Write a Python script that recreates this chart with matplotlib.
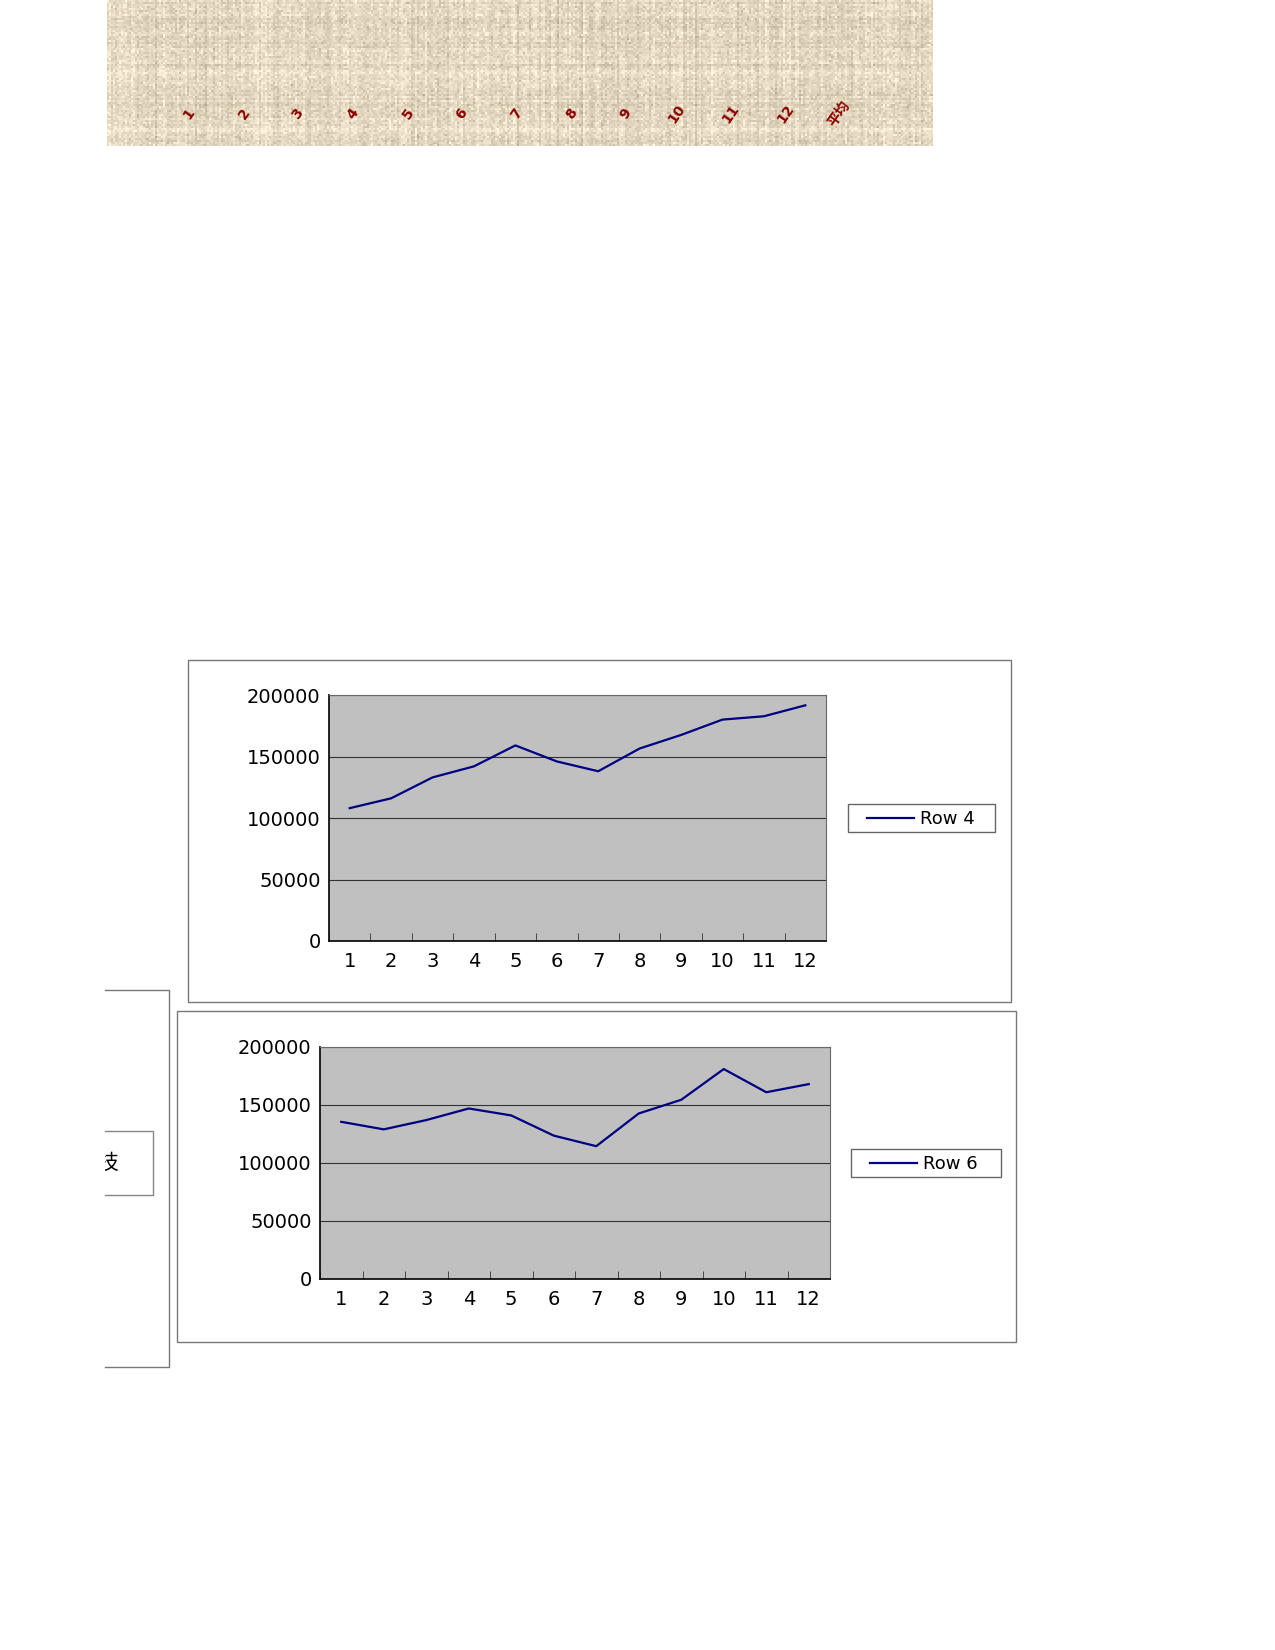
import numpy as np
import matplotlib
matplotlib.use("Agg")
import matplotlib.pyplot as plt
from matplotlib.patches import Rectangle

plt.rcParams['font.family'] = ['DejaVu Sans', 'Noto Sans CJK SC']

months = list(range(1, 13))
row4 = [108000, 116000, 133000, 142000, 159000, 146000, 138000, 156500, 167500, 180000, 182700, 191600]
row6 = [135500, 129000, 137000, 147000, 141000, 123600, 114500, 142700, 154500, 181000, 161000, 168000]
banner_labels = ['1', '2', '3', '4', '5', '6', '7', '8', '9', '10', '11', '12', '平均']
yticks = [0, 50000, 100000, 150000, 200000]

W, H = 1275, 1650
fig = plt.figure(figsize=(12.75, 16.5), dpi=100)

def fx(x): return x / W
def fy(y): return 1 - y / H

def box(x0, y0, x1, y1, lw=1.0, color='#777777'):
    fig.patches.append(Rectangle((fx(x0), fy(y1)), fx(x1 - x0), (y1 - y0) / H,
                                 transform=fig.transFigure, fill=False, ec=color, lw=lw))

# textured banner
bax = fig.add_axes([fx(107), fy(146), fx(933 - 107), 146 / H])
rng = np.random.default_rng(3)
tex = rng.normal(0, 1, (73, 413))
tex = tex + 0.6 * rng.normal(0, 1, (73, 1)) + 0.6 * rng.normal(0, 1, (1, 413))
base = np.array([228, 217, 192]) / 255
img = np.clip(base[None, None, :] + 0.04 * tex[:, :, None], 0, 1)
bax.imshow(img, aspect='auto', interpolation='nearest')
bax.axis('off')
bx = [189, 244, 298, 353, 408, 462, 517, 572, 626, 677, 731, 786, 839]
for x, lab in zip(bx, banner_labels):
    fig.text(fx(x), fy(114), lab, color='#8b0000', fontsize=10, fontweight='bold',
             rotation=55, ha='center', va='center',
             family=['DejaVu Sans', 'Noto Sans CJK SC'])

# left partial box
fig.lines.append(plt.Line2D([fx(105), fx(169), fx(169), fx(105)],
                            [fy(990), fy(990), fy(1367), fy(1367)],
                            transform=fig.transFigure, color='#777777', lw=1))
fig.lines.append(plt.Line2D([fx(105), fx(153), fx(153), fx(105)],
                            [fy(1131), fy(1131), fy(1195), fy(1195)],
                            transform=fig.transFigure, color='#888888', lw=1))
clip = fig.add_axes([fx(105), fy(1195), fx(48), 64 / H])
clip.axis('off')
clip.set_xlim(0, 48); clip.set_ylim(0, 64)
clip.text(-8, 32, '技', fontsize=15, ha='left', va='center',
          family=['Noto Sans CJK SC'], clip_on=True)

def chart(frame, axr, leg, data, name):
    box(*frame)
    x0, y0, x1, y1 = axr
    ax = fig.add_axes([fx(x0), fy(y1), fx(x1 - x0), (y1 - y0) / H])
    ax.set_facecolor('#c0c0c0')
    ax.plot(months, data, color='#000080', lw=1.6)
    ax.set_xlim(0.5, 12.5)
    ax.set_ylim(0, 200000)
    ax.set_yticks(yticks)
    ax.set_yticklabels([str(v) for v in yticks], fontsize=14)
    ax.set_xticks(months)
    ax.set_xticklabels([str(m) for m in months], fontsize=14)
    ax.set_xticks(np.arange(0.5, 13, 1), minor=True)
    ax.tick_params(axis='x', which='major', length=0, pad=8)
    ax.tick_params(axis='x', which='minor', length=6, direction='in', color='#333333')
    ax.tick_params(axis='y', length=0, pad=6)
    ax.grid(axis='y', color='#333333', lw=0.8)
    ax.set_axisbelow(True)
    for s in ['top', 'right']:
        ax.spines[s].set_color('#666666')
    for s in ['left', 'bottom']:
        ax.spines[s].set_color('#111111')
        ax.spines[s].set_linewidth(1.3)
    lx0, ly0, lx1, ly1 = leg
    box(lx0, ly0, lx1, ly1, color='#666666')
    ym = (ly0 + ly1) / 2
    fig.lines.append(plt.Line2D([fx(lx0 + 19), fx(lx0 + 66)], [fy(ym), fy(ym)],
                                transform=fig.transFigure, color='#000080', lw=1.6))
    fig.text(fx(lx0 + 72), fy(ym + 1), name, fontsize=13, ha='left', va='center')

chart((188, 660, 1011, 1002), (329, 695, 826, 941), (848, 804, 995, 832), row4, 'Row 4')
chart((177, 1011, 1016, 1342), (320, 1047, 830, 1279), (851, 1149, 1001, 1177), row6, 'Row 6')

fig.savefig('out.png', dpi=100)
